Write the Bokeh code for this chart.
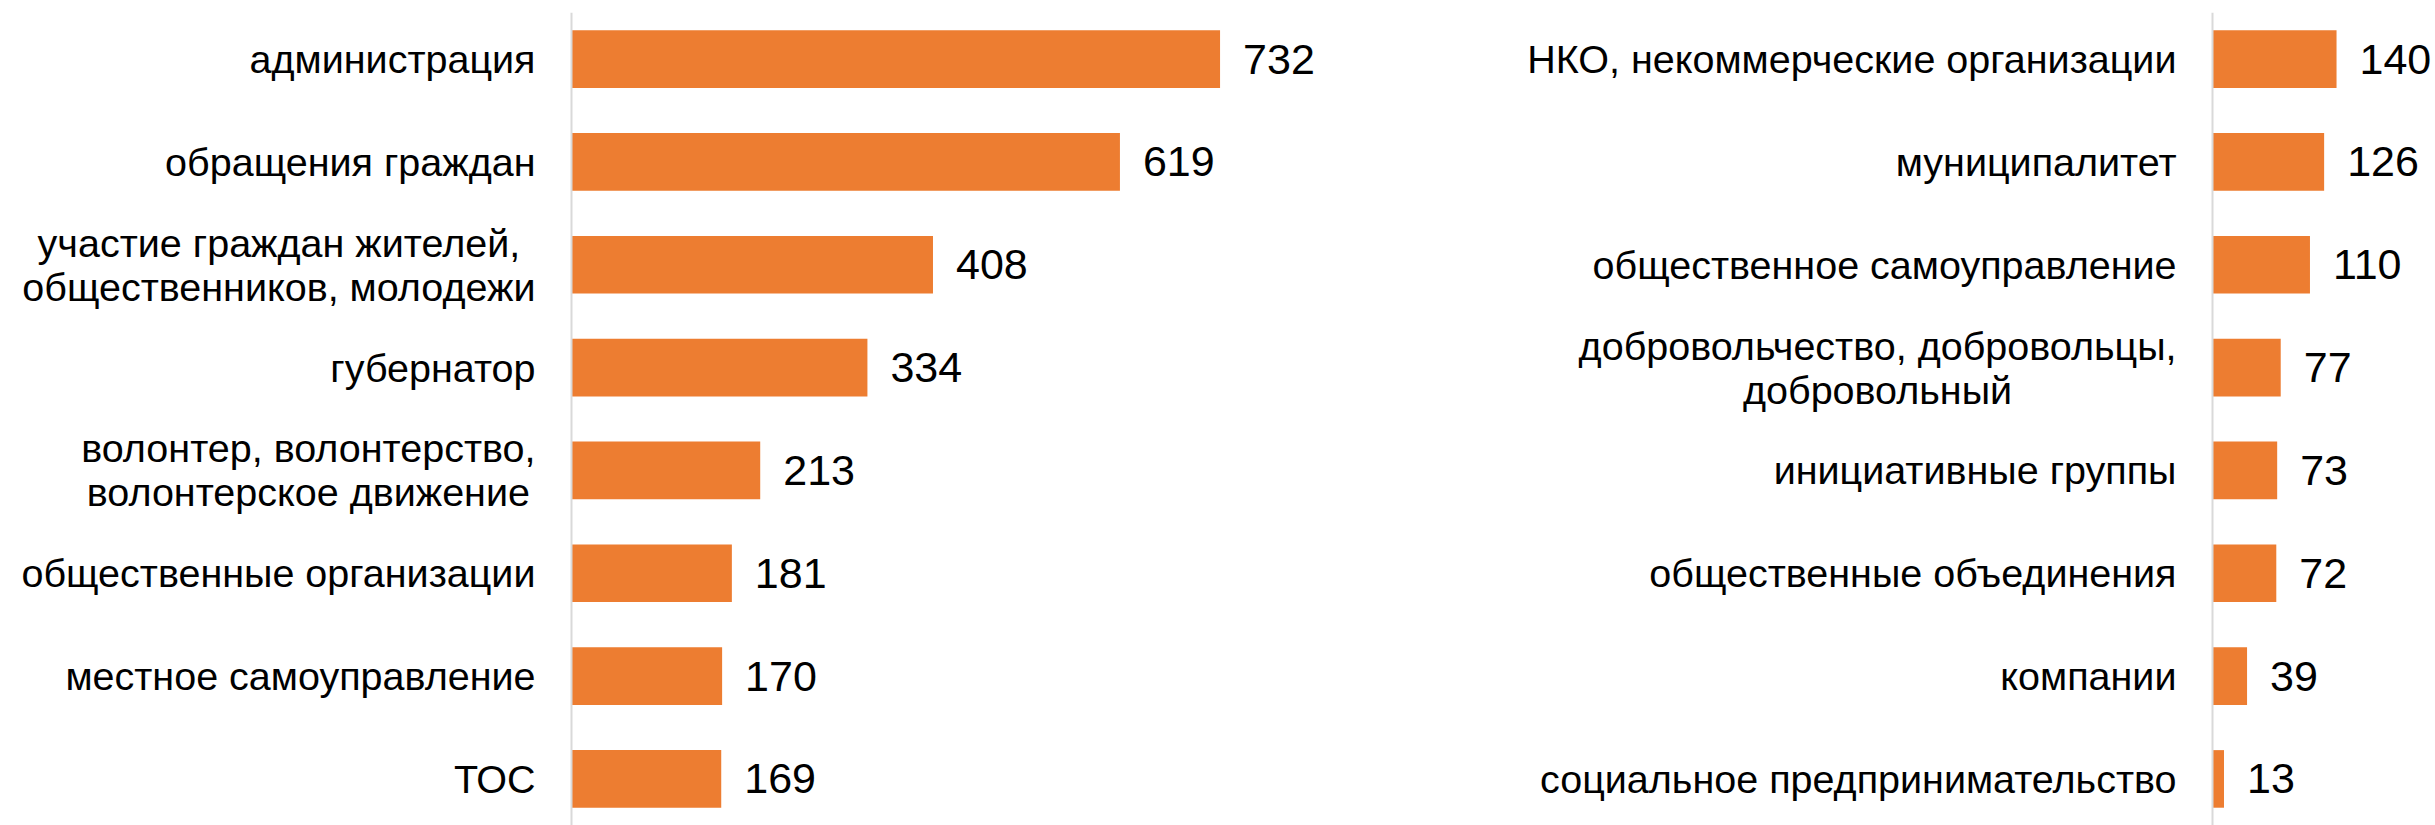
from bokeh.plotting import figure
from bokeh.models import FactorRange, Range1d, Span, ColumnDataSource
from bokeh.layouts import row
from bokeh.core.properties import value
from bokeh.embed import file_html
from bokeh.resources import INLINE

# ---- data ----
left_categories = [
    "администрация",
    "обращения граждан",
    "участие граждан жителей,\nобщественников, молодежи",
    "губернатор",
    "волонтер, волонтерство,\nволонтерское движение",
    "общественные организации",
    "местное самоуправление",
    "ТОС",
]
left_values = [732, 619, 408, 334, 213, 181, 170, 169]

right_categories = [
    "НКО, некоммерческие организации",
    "муниципалитет",
    "общественное самоуправление",
    "добровольчество, добровольцы,\nдобровольный",
    "инициативные группы",
    "общественные объединения",
    "компании",
    "социальное предпринимательство",
]
right_values = [140, 126, 110, 77, 73, 72, 39, 13]

FONT = "Liberation Sans"
CAT_FONT_SIZE = "39.5px"
NUM_FONT_SIZE = "43px"
ORANGE = "#ED7D31"
AXIS_GREY = "#D9D9D9"
SCALE = 0.886          # px per unit
FIG_H = 825


def make_panel(cats, vals, width, axis_px):
    x_start = -axis_px / SCALE
    x_end = (width - axis_px) / SCALE
    p = figure(
        width=width, height=FIG_H,
        y_range=FactorRange(factors=cats[::-1], range_padding=-0.047,
                            range_padding_units="absolute"),
        x_range=Range1d(x_start, x_end),
        output_backend="svg", toolbar_location=None,
        min_border_left=0, min_border_right=0, min_border_bottom=0,
        min_border_top=12,
    )
    p.outline_line_color = None
    p.xgrid.visible = False
    p.ygrid.visible = False
    p.xaxis.visible = False
    p.yaxis.visible = False
    p.background_fill_color = "white"
    p.border_fill_color = "white"

    src = ColumnDataSource(dict(
        cat=cats,
        val=vals,
        zero=[0] * len(vals),
        lab=[str(v) for v in vals],
    ))

    p.hbar(y="cat", left="zero", right="val", height=0.56, source=src,
           fill_color=ORANGE, line_color=None)

    p.add_layout(Span(location=0, dimension="height",
                      line_color=AXIS_GREY, line_width=2))

    p.text(x="val", y="cat", text="lab", source=src,
           x_offset=23, text_align="left", text_baseline="middle",
           text_font=value(FONT), text_font_size=NUM_FONT_SIZE,
           text_color="#000000")

    p.text(x="zero", y="cat", text="cat", source=src,
           x_offset=-36, anchor=value("center_right"),
           text_align="center", text_baseline="middle",
           text_line_height=1.0,
           text_font=value(FONT), text_font_size=CAT_FONT_SIZE,
           text_color="#000000")
    return p


p_left = make_panel(left_categories, left_values, 1400, 571)
p_right = make_panel(right_categories, right_values, 1035, 812)

layout = row(p_left, p_right, spacing=0)

open("out.html", "w").write(file_html(layout, INLINE))
